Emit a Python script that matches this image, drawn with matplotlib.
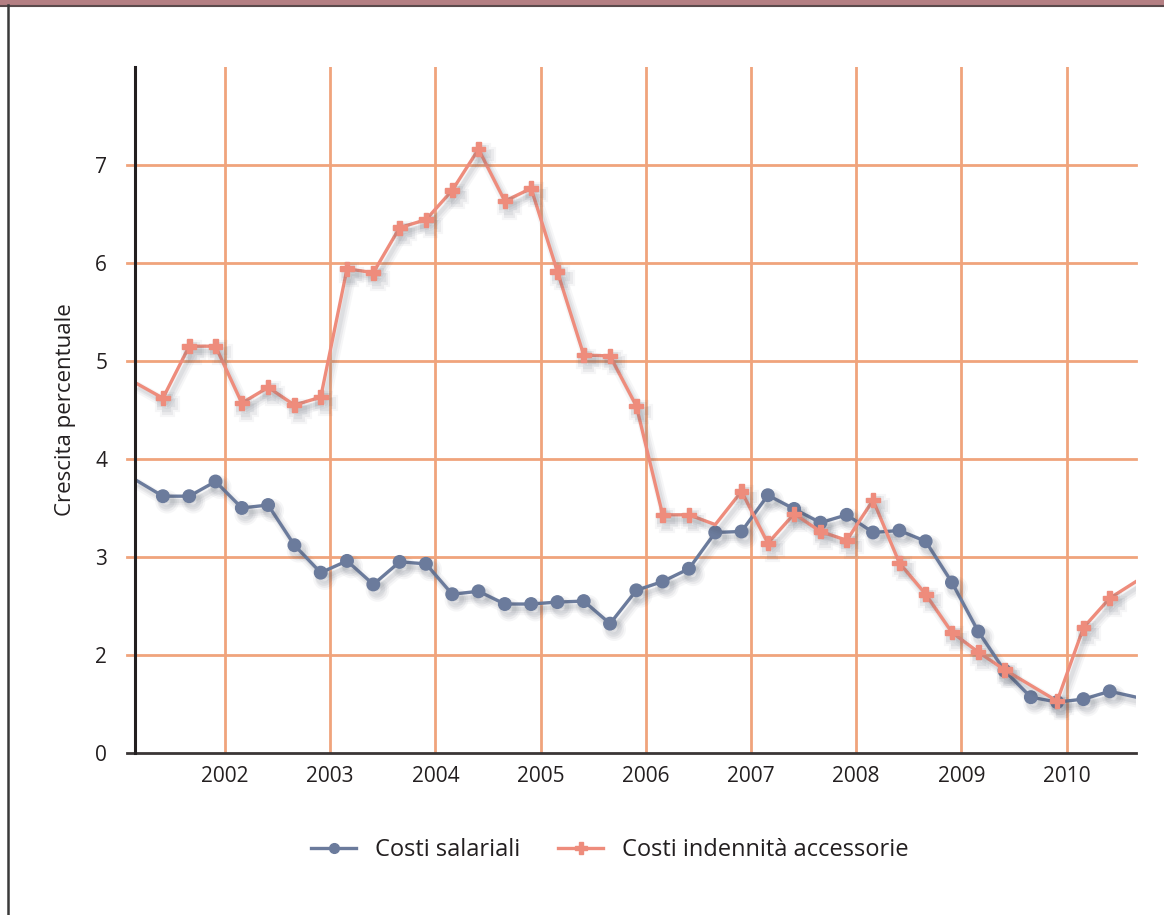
import numpy as np
import matplotlib
matplotlib.use("Agg")
import matplotlib.pyplot as plt
import matplotlib.patheffects as pe
from matplotlib.patches import Rectangle
from matplotlib.lines import Line2D

plt.rcParams['font.family'] = ['Open Sans', 'DejaVu Sans']

# quarterly growth rates, 2001 Q1 .. 2010 Q3
costi_salariali = [3.78, 3.62, 3.62, 3.77, 3.50, 3.53, 3.12, 2.84, 2.96, 2.72,
                   2.95, 2.93, 2.62, 2.65, 2.52, 2.52, 2.54, 2.55, 2.32, 2.66,
                   2.75, 2.88, 3.25, 3.26, 3.63, 3.49, 3.35, 3.43, 3.25, 3.27,
                   3.16, 2.74, 2.24, 1.84, 1.57, 1.52, 1.55, 1.63, 1.57]
costi_accessori = [4.77, 4.62, 5.15, 5.15, 4.57, 4.73, 4.55, 4.63, 5.94, 5.90,
                   6.36, 6.44, 6.74, 7.16, 6.63, 6.76, 5.91, 5.06, 5.05, 4.54,
                   3.43, 3.43, 3.33, 3.67, 3.14, 3.44, 3.26, 3.17, 3.58, 2.94,
                   2.62, 2.23, 2.03, 1.85, 1.69, 1.53, 2.28, 2.58, 2.75]
anni = list(range(2002, 2011))
ytick_pos = [1, 2, 3, 4, 5, 6, 7]
ytick_lab = ['0', '2', '3', '4', '5', '6', '7']
serie_labels = ['Costi salariali', 'Costi indennità accessorie']

x = 2001.16 + 0.25 * np.arange(len(costi_salariali))

BLUE = '#6b7b9c'
RED = '#ee8c7c'
GRID = '#f0a47c'
DARK = '#231f20'

fig = plt.figure(figsize=(11.64, 9.15), dpi=100)
ax = fig.add_axes([0.116, 0.177, 0.860, 0.750])

ax.set_xlim(2001.145, 2010.66)
ax.set_ylim(1, 8)

for s in ['top', 'right', 'bottom']:
    ax.spines[s].set_visible(False)
ax.spines['left'].set_color(DARK)
ax.spines['left'].set_linewidth(2.2)
ax.spines['left'].set_zorder(6)

# grid drawn by hand so it pokes out left of the axis like ticks
for y in ytick_pos[1:]:
    ax.axhline(y, xmin=-0.008, xmax=1, color=GRID, lw=2, clip_on=False, zorder=1)
ax.axhline(1, xmin=-0.008, xmax=1, color='#3a3536', lw=2, clip_on=False, zorder=6)
for a in anni:
    ax.axvline(a, color=GRID, lw=2, zorder=1)

# soft drop shadow: a few wide, faint copies offset down-right
shadow = [pe.SimpleLineShadow(offset=(3, -4), shadow_color='#505868', alpha=0.05, linewidth=8),
          pe.SimpleLineShadow(offset=(3, -4), shadow_color='#505868', alpha=0.07, linewidth=5),
          pe.SimpleLineShadow(offset=(2.5, -3.5), shadow_color='#505868', alpha=0.08, linewidth=3),
          pe.Normal()]

ax.plot(x, costi_salariali, color=BLUE, lw=2.4, marker='o', ms=9,
        markevery=list(range(1, len(x) - 1)), zorder=3,
        path_effects=shadow, label=serie_labels[0])
red_marks = [i for i in range(1, len(x) - 1) if i not in (22, 34)]
ax.plot(x, costi_accessori, color=RED, lw=2.4, marker='P', ms=10,
        markevery=red_marks, zorder=4,
        path_effects=shadow, label=serie_labels[1])

ax.set_yticks(ytick_pos)
ax.set_yticklabels(ytick_lab)
ax.set_xticks(anni)
ax.set_xticklabels([str(a) for a in anni])
ax.tick_params(axis='y', length=0, pad=20, labelsize=15, labelcolor=DARK)
ax.tick_params(axis='x', length=0, pad=9, labelsize=15, labelcolor=DARK)
ax.set_ylabel('Crescita percentuale', fontsize=16, color=DARK, labelpad=14)

line_s = Line2D([], [], color=BLUE, lw=2.4, marker='o', ms=7)
line_a = Line2D([], [], color=RED, lw=2.4, marker='P', ms=8)
fig.legend([line_s, line_a], serie_labels, loc='center',
           bbox_to_anchor=(0.524, 0.071), ncol=2, frameon=False, fontsize=17,
           handlelength=1.9, handletextpad=0.8, columnspacing=1.6, labelcolor=DARK)

# page decoration: header band and left frame line
fig.add_artist(Rectangle((0, 1 - 5 / 915), 1, 5 / 915, transform=fig.transFigure,
                         facecolor='#b47f83', edgecolor='none'))
fig.add_artist(Line2D([0, 1], [1 - 5.5 / 915] * 2, transform=fig.transFigure,
                      color='#5a4a4c', lw=1.5))
fig.add_artist(Line2D([7.5 / 1164] * 2, [0, 1 - 5 / 915], transform=fig.transFigure,
                      color='#3a3a3a', lw=1.8))

fig.savefig('out.png', dpi=100)
